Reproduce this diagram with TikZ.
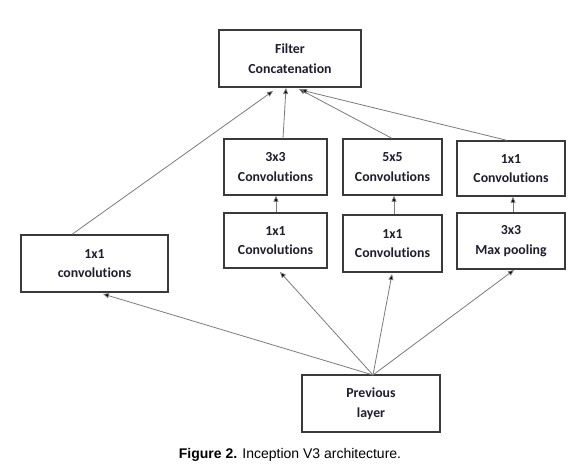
\documentclass[tikz,border=0pt]{standalone}
\usepackage{fontspec}
\setmainfont[Ligatures=NoCommon]{Carlito}
\newfontfamily\capfont{Liberation Sans}
\usetikzlibrary{arrows.meta}
\definecolor{boxline}{HTML}{3A3A3A}
\definecolor{arrline}{HTML}{7A7A7A}
\definecolor{txt}{HTML}{1E1E2E}
\begin{document}
\begin{tikzpicture}[x=1pt,y=-1pt,
  box/.style={draw=boxline,line width=1.3pt,fill=white,inner sep=0pt,
    font=\bfseries\fontsize{13.8}{19.5}\selectfont,text=txt,align=center},
  arr/.style={draw=arrline,line width=0.8pt,-{Triangle[length=6pt,width=5pt,fill=black]}}]
\useasboundingbox (0,0) rectangle (579,469);
\node[box,minimum width=142pt,minimum height=57pt] (fc) at (290,58.5) {Filter\\Concatenation};
\node[box,minimum width=147pt,minimum height=57pt] (lc) at (94.5,263.5) {1x1\\convolutions};
\node[box,minimum width=103pt,minimum height=56pt] (c33) at (275.5,167) {3x3\\Convolutions};
\node[box,minimum width=99pt,minimum height=56pt] (c55) at (392.5,167) {5x5\\Convolutions};
\node[box,minimum width=108pt,minimum height=55pt] (c11r) at (511,168.5) {1x1\\Convolutions};
\node[box,minimum width=103pt,minimum height=55pt] (r1) at (275.5,240.5) {1x1\\Convolutions};
\node[box,minimum width=99pt,minimum height=57pt] (r2) at (392.5,243.5) {1x1\\Convolutions};
\node[box,minimum width=108pt,minimum height=56pt] (mp) at (511,241) {3x3\\Max pooling};
\node[box,minimum width=138pt,minimum height=57pt] (pl) at (371,403.5) {Previous\\layer};
\coordinate (plt) at (373,375);
\coordinate (fcb1) at (273,91);
\coordinate (fcb2) at (286,88);
\coordinate (fcb3) at (299,89);
\coordinate (fcb4) at (301,90);
% bottom arrows
\draw[arr] (plt) -- (103,294);
\draw[arr] (plt) -- (280,272);
\draw[arr] (plt) -- (392,274);
\draw[arr] (plt) -- (514,270);
% vertical arrows
\draw[arr] (r1.north -| 276,0) -- (c33.south -| 276,0);
\draw[arr] (r2.north -| 394,0) -- (c55.south -| 394,0);
\draw[arr] (mp.north -| 513,0) -- (c11r.south -| 513,0);
% top arrows
\draw[arr] (lc.north -| 72,0) -- (fcb1);
\draw[arr] (c33.north -| 283,0) -- (fcb2);
\draw[arr] (c55.north -| 392,0) -- (fcb3);
\draw[arr] (c11r.north -| 507,0) -- (fcb4);
\node[anchor=base,font=\capfont\fontsize{14}{16}\selectfont] (cap) at (290,458) {\textbf{Figure 2.} Inception V3 architecture.};
\end{tikzpicture}
\end{document}
